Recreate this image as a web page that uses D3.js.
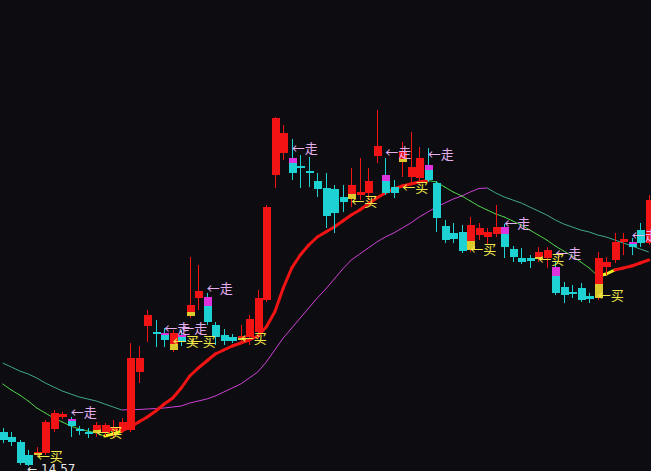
<!DOCTYPE html>
<html><head><meta charset="utf-8">
<script src="https://cdn.jsdelivr.net/npm/d3@7/dist/d3.min.js"></script>
<style>html,body{margin:0;padding:0;background:#0d0d11;overflow:hidden}svg{display:block}</style>
</head><body><svg id="c" width="651" height="471"></svg>
<script>
// ---- data ----
const openP = [15.25,15.15,15.05,14.79,14.79,14.83,15.31,15.55,15.51,15.31,
15.25,15.23,15.23,15.27,15.29,15.29,16.45,17.37,17.25,17.23,
16.89,17.19,17.57,17.93,17.95,17.39,17.19,17.15,17.09,17.15,
17.25,17.89,20.39,20.83,20.73,20.57,20.47,20.27,20.13,20.11,
19.95,19.91,19.99,20.03,20.77,20.39,20.15,20.65,20.35,20.33,
20.59,20.23,19.37,19.23,19.25,18.89,19.19,19.15,19.21,19.35,
18.91,18.73,18.73,18.71,18.73,18.55,18.15,18.05,18.13,17.97,
17.93,18.55,18.69,19.05,19.05,19.29,19.03];
const closeP = [15.09,15.05,14.63,14.59,14.85,15.45,15.63,15.61,15.37,15.27,
15.21,15.39,15.39,15.35,15.45,16.73,16.73,17.59,17.21,17.09,
17.23,17.05,17.79,18.07,17.45,17.15,17.07,17.07,17.17,17.51,
17.93,19.75,21.53,21.23,20.43,20.53,20.43,20.11,19.57,19.63,
19.85,20.19,20.05,20.27,20.97,20.03,20.03,20.85,20.55,20.73,
20.29,19.53,19.09,19.11,18.87,19.39,19.33,19.25,19.35,18.95,
18.75,18.65,18.67,18.85,18.89,18.03,17.99,18.01,17.89,17.91,
18.73,18.65,19.05,19.11,18.95,19.03,19.89];
const highP = [15.33,15.25,15.09,14.89,14.95,15.49,15.69,15.65,15.55,15.37,
15.33,15.45,15.43,15.49,15.53,17.03,16.97,17.69,17.49,17.33,
17.29,17.29,18.75,18.59,18.03,17.45,17.31,17.21,17.39,17.59,
18.09,19.79,21.55,21.39,21.11,20.79,20.75,20.43,20.43,20.19,
20.19,20.53,20.73,20.53,21.69,20.73,20.29,21.05,21.25,20.95,
20.93,20.27,19.49,19.43,19.39,19.55,19.43,19.33,19.79,19.41,
18.97,18.93,18.79,18.95,18.95,18.65,18.25,18.19,18.23,18.03,
18.85,18.75,19.23,19.23,19.13,19.43,19.99];
const lowP = [15.03,14.97,14.59,14.57,14.75,14.79,15.25,15.51,15.15,15.19,
15.13,15.15,15.17,15.13,15.23,15.25,16.23,17.05,16.95,16.95,
16.85,16.97,17.53,17.69,17.39,16.99,16.99,17.03,17.05,16.99,
17.13,17.85,20.13,20.69,20.29,20.13,20.15,19.95,19.33,19.23,
19.65,19.75,19.89,19.89,20.63,19.99,19.93,20.35,20.19,20.23,
20.25,19.25,19.03,19.03,18.83,18.85,19.09,18.99,19.15,18.73,
18.65,18.61,18.53,18.65,18.53,17.99,17.83,17.93,17.85,17.83,
17.89,18.39,18.63,18.79,18.79,18.95,18.99];
const fastMA = [16.21,16.09,15.99,15.87,15.73,15.63,15.53,15.45,15.37,15.31,
15.27,15.23,15.17,15.21,15.27,15.35,15.45,15.55,15.67,15.81,
15.93,16.13,16.37,16.53,16.67,16.81,16.89,16.97,17.03,17.09,
17.17,17.35,17.65,18.13,18.53,18.79,18.99,19.15,19.25,19.35,
19.47,19.59,19.69,19.81,19.93,20.03,20.11,20.17,20.21,20.25,
20.28,20.25,20.15,20.05,19.97,19.87,19.77,19.69,19.61,19.55,
19.47,19.39,19.29,19.19,19.09,18.97,18.87,18.77,18.65,18.53,
18.37,18.41,18.49,18.53,18.57,18.63,18.69];
const slowMA = [16.63,16.55,16.47,16.41,16.33,16.23,16.15,16.07,16.01,15.95,
15.91,15.87,15.81,15.75,15.69,15.70,15.70,15.71,15.72,15.73,
15.75,15.77,15.83,15.87,15.91,15.97,16.05,16.13,16.21,16.33,
16.45,16.65,16.89,17.13,17.33,17.53,17.73,17.93,18.11,18.31,
18.51,18.69,18.81,18.93,19.05,19.15,19.23,19.33,19.43,19.55,
19.65,19.75,19.83,19.91,19.97,20.05,20.12,20.13,20.03,19.95,
19.89,19.83,19.75,19.67,19.59,19.49,19.41,19.35,19.29,19.25,
19.19,19.15,19.09,19.03,18.97,18.91,18.85];
const sellIdx = [8,19,21,24,34,45,50,59,65,74];
const sellLabelP = [15.67,17.35,17.35,18.15,20.95,20.87,20.83,19.45,18.85,19.21];
const buyIdx = [4,11,20,22,28,41,47,55,63,70];
const buyLabelP = [14.79,15.27,17.09,17.09,17.15,19.89,20.17,18.93,18.73,18.01];
const sellText = "←走", buyText = "←买";
const lowMark = {idx: 3, value: 14.57, text: "← 14.57"};

// ---- drawing ----
const W = 651, H = 471;
const svg = d3.select("#c");
svg.append("rect").attr("width", W).attr("height", H).attr("fill", "#0d0d11");
const days = d3.range(openP.length);
const x = d3.scalePoint().domain(days).range([2.75, 648.75]);
const y = d3.scaleLinear().domain([14.57, 23.89]).range([466, 0]);
const bw = 8;
const RED = "#f21414", CYAN = "#1ed2d4", MAG = "#dd33dd", YEL = "#dcc92e";
const cx = i => Math.round(x(i));

// MA lines as coloured segments
const gl = svg.append("g");
function segs(arr){ return d3.range(arr.length-1).map(i => ({i, a: arr[i], b: arr[i+1]})); }
gl.selectAll("line.slow").data(segs(slowMA)).join("line")
  .attr("x1", d => x(d.i)).attr("x2", d => x(d.i+1))
  .attr("y1", d => y(d.a)).attr("y2", d => y(d.b))
  .attr("stroke", d => d.b >= d.a ? "#d040d8" : "#3fa88a")
  .attr("stroke-width", 1);
const fastSegs = segs(fastMA).map((s, k, all) => {
  const up = s.b >= s.a;
  let n = 0; for (let j = k; j >= 0 && all[j].b >= all[j].a; j--) n++;
  const turn = up && n <= 2 && k - n >= 0;
  return Object.assign(s, {up, turn});
});
gl.selectAll("line.fast").data(fastSegs).join("line")
  .attr("x1", d => x(d.i)).attr("x2", d => x(d.i+1))
  .attr("y1", d => y(d.a)).attr("y2", d => y(d.b))
  .attr("stroke", d => !d.up ? "#4ed04a" : (d.turn ? "#f0ee20" : RED))
  .attr("stroke-width", d => d.up ? 3 : 1)
  .attr("stroke-linecap", "round");

// candles
const candles = days.map(i => ({i, o: openP[i], h: highP[i], l: lowP[i], c: closeP[i]}));
const gc = svg.append("g").attr("shape-rendering", "crispEdges");
gc.selectAll("line.wick").data(candles).join("line")
  .attr("x1", d => cx(d.i) + 0.5).attr("x2", d => cx(d.i) + 0.5)
  .attr("y1", d => y(d.h)).attr("y2", d => y(d.l))
  .attr("stroke", d => d.c >= d.o ? RED : CYAN).attr("stroke-width", 1);
gc.selectAll("rect.body").data(candles).join("rect")
  .attr("x", d => cx(d.i) + 0.5 - bw/2)
  .attr("width", bw)
  .attr("y", d => y(Math.max(d.o, d.c)))
  .attr("height", d => Math.max(2, Math.abs(y(d.o) - y(d.c))))
  .attr("fill", d => d.c >= d.o ? RED : CYAN);
const sellC = sellIdx.map(i => candles[i]).filter(d => d.c < d.o);
gc.selectAll("rect.mag").data(sellC).join("rect")
  .attr("x", d => cx(d.i) + 0.5 - bw/2).attr("width", bw)
  .attr("y", d => y(d.o))
  .attr("height", d => Math.max(2, (y(d.c) - y(d.o)) * 0.35))
  .attr("fill", MAG);
const buyC = buyIdx.map(i => candles[i]).filter(d => d.c >= d.o);
gc.selectAll("rect.yel").data(buyC).join("rect")
  .attr("x", d => cx(d.i) + 0.5 - bw/2).attr("width", bw)
  .attr("y", d => y(d.o) - Math.max(2, (y(d.o) - y(d.c)) * 0.35))
  .attr("height", d => Math.max(2, (y(d.o) - y(d.c)) * 0.35))
  .attr("fill", YEL);

// signal labels
const gt = svg.append("g").attr("font-family", "'Noto Sans CJK SC','Noto Sans',sans-serif").attr("font-size", 13);
gt.selectAll("text.sell").data(sellIdx.map((i, k) => ({i, p: sellLabelP[k]}))).join("text")
  .attr("x", d => x(d.i)).attr("y", d => y(d.p)).attr("dominant-baseline", "central")
  .attr("fill", "#e4aef0").text(sellText);
gt.selectAll("text.buy").data(buyIdx.map((i, k) => ({i, p: buyLabelP[k]}))).join("text")
  .attr("x", d => x(d.i)).attr("y", d => y(d.p)).attr("dominant-baseline", "central")
  .attr("fill", "#f0e84a").text(buyText);
svg.append("text").attr("x", x(lowMark.idx) - 1).attr("y", y(lowMark.value) - 2)
  .attr("dominant-baseline", "hanging").attr("font-family", "'DejaVu Sans',sans-serif")
  .attr("font-size", 12).attr("fill", "#e8e8e8").text(lowMark.text);
</script></body></html>
